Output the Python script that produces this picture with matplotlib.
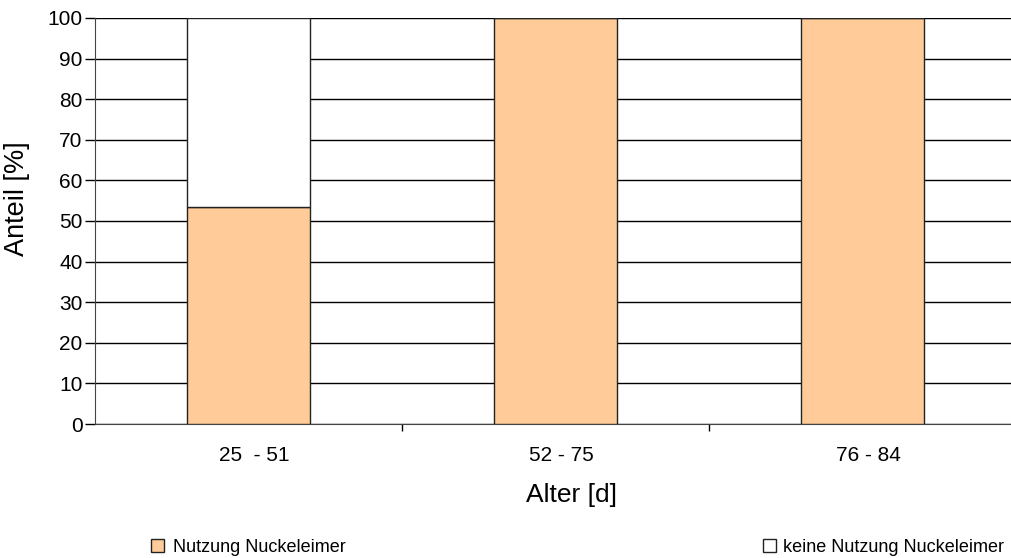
import numpy as np
import matplotlib.pyplot as plt
import matplotlib.transforms as mtransforms
from matplotlib.patches import Patch

plt.rcParams['font.family'] = ['Liberation Sans', 'DejaVu Sans']

# Altersgruppen und Anteile
age_groups = ['25  - 51', '52 - 75', '76 - 84']
nutzung = [53.5, 100, 100]
keine_nutzung = [46.5, 0, 0]

orange = '#FFCC99'
edge = '#222222'

fig = plt.figure(figsize=(10.12, 5.58), dpi=100)
# axis area in pixels: x 95..1016 (cut at the image edge), y 18..424
ax = fig.add_axes([95 / 1012, 1 - 424 / 558, 921 / 1012, 406 / 558])

x = np.arange(len(age_groups))
ax.bar(x, nutzung, width=0.4, color=orange, edgecolor=edge, linewidth=1, zorder=3)
ax.bar(x, keine_nutzung, width=0.4, bottom=nutzung, color='white',
       edgecolor=edge, linewidth=1, zorder=3)

ax.set_xlim(-0.5, len(age_groups) - 0.5)
ax.set_ylim(0, 100)
ax.set_yticks(np.arange(0, 101, 10))
ax.yaxis.grid(True, color='black', linewidth=1)
ax.set_axisbelow(True)

ax.set_xticks(x)
ax.set_xticklabels(age_groups, fontsize=15)
ax.set_xticks(np.arange(0.5, len(age_groups) - 0.5, 1), minor=True)
ax.tick_params(axis='x', which='major', length=0, pad=16)
ax.tick_params(axis='x', which='minor', length=5, direction='out', width=1)
ax.tick_params(axis='y', labelsize=15, length=7, width=1, pad=2)

# category labels sit a little right of the bar centres in the original
shift = mtransforms.ScaledTranslation(6 / 100, 0, fig.dpi_scale_trans)
for lbl in ax.get_xticklabels():
    lbl.set_transform(lbl.get_transform() + shift)

for s in ['top', 'right']:
    ax.spines[s].set_visible(False)
ax.spines['left'].set_color('#444444')
ax.spines['bottom'].set_color('#444444')

ax.set_ylabel('Anteil [%]', fontsize=19.5)
ax.yaxis.set_label_coords(-65 / 921, 0.554)
ax.set_xlabel('Alter [d]', fontsize=19)
ax.xaxis.set_label_coords(0.517, -59 / 406)

h1 = Patch(facecolor=orange, edgecolor=edge, linewidth=1)
h2 = Patch(facecolor='white', edgecolor=edge, linewidth=1)
fig.legend([h1], ['Nutzung Nuckeleimer'], loc='center left',
           bbox_to_anchor=(135 / 1012, 1 - 547 / 558), frameon=False,
           fontsize=13, handlelength=0.7, handleheight=0.7, handletextpad=0.5)
fig.legend([h2], ['keine Nutzung Nuckeleimer'], loc='center right',
           bbox_to_anchor=(1020 / 1012, 1 - 547 / 558), frameon=False,
           fontsize=13, handlelength=0.7, handleheight=0.7, handletextpad=0.4)

fig.savefig('out.png', dpi=100)
